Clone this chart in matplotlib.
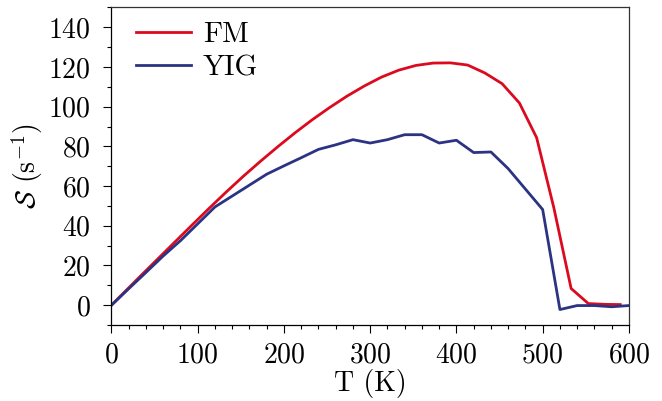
import numpy as np
import matplotlib
matplotlib.use("Agg")
import matplotlib.pyplot as plt
from matplotlib.ticker import MultipleLocator

# ---- data ----
T_fm = [0, 13, 33, 53, 73, 93, 113, 133, 153, 173, 193, 213, 233, 253, 273,
        293, 313, 333, 353, 373, 393, 413, 433, 453, 473, 493, 513, 533, 553,
        573, 590]
S_fm = [0, 5.7, 14.4, 23.0, 31.6, 40.2, 48.7, 57.0, 65.0, 72.6, 79.9, 86.9,
        93.5, 99.6, 105.3, 110.4, 114.9, 118.4, 120.8, 122.0, 122.1, 121.0,
        117.0, 111.6, 101.9, 84.4, 49.0, 8.4, 0.8, 0.4, 0.3]

T_yig = [0, 20, 40, 60, 80, 100, 120, 140, 160, 180, 200, 220, 240, 260, 280,
         300, 320, 340, 360, 380, 400, 420, 440, 460, 480, 500, 520, 540, 560,
         580, 600]
S_yig = [0, 8.3, 16.5, 24.8, 32.5, 41.0, 49.5, 55.0, 60.5, 66.0, 70.2, 74.3,
         78.5, 80.8, 83.4, 81.7, 83.4, 85.9, 85.9, 81.7, 83.1, 76.9, 77.2,
         68.8, 58.5, 48.2, -2.2, -0.2, -0.2, -0.8, -0.2]

labels = ["FM", "YIG"]
colors = ["#DC0A1E", "#2B3382"]

# ---- style ----
plt.rcParams["font.family"] = "cmr10"
plt.rcParams["mathtext.fontset"] = "cm"
plt.rcParams["axes.formatter.use_mathtext"] = True
plt.rcParams["font.size"] = 20

fig = plt.figure(figsize=(6.62, 4.01), dpi=100)
ax = fig.add_axes([0.1684, 0.1895, 0.7816, 0.7918])

ax.plot(T_fm, S_fm, color=colors[0], lw=2.0, label=labels[0])
ax.plot(T_yig, S_yig, color=colors[1], lw=2.0, label=labels[1])

ax.set_xlim(0, 600)
ax.set_ylim(-10, 150)
ax.xaxis.set_major_locator(MultipleLocator(100))
ax.xaxis.set_minor_locator(MultipleLocator(20))
ax.yaxis.set_major_locator(MultipleLocator(20))
ax.yaxis.set_minor_locator(MultipleLocator(10))
ax.set_yticks(np.arange(0, 141, 20))

ax.tick_params(which="both", direction="out", top=False, right=False)
ax.tick_params(axis="x", which="major", length=6, width=0.8, pad=6)
ax.tick_params(axis="y", which="major", length=6, width=0.8, pad=9)
ax.tick_params(which="minor", length=3, width=0.8)

for side in ["top", "right"]:
    ax.spines[side].set_color("#333333")
    ax.spines[side].set_linewidth(0.9)
for side in ["left", "bottom"]:
    ax.spines[side].set_linewidth(0.9)

ax.set_xlabel("T (K)", labelpad=1)
ax.set_ylabel(r"$\mathcal{S}$ (s$^{-1}$)", labelpad=2)

ax.legend(loc="upper left", bbox_to_anchor=(0.047, 0.955), frameon=False,
          borderpad=0, borderaxespad=0, handlelength=1.9,
          handletextpad=0.4, labelspacing=0.22, fontsize=21)

fig.savefig("out.png", dpi=100)
